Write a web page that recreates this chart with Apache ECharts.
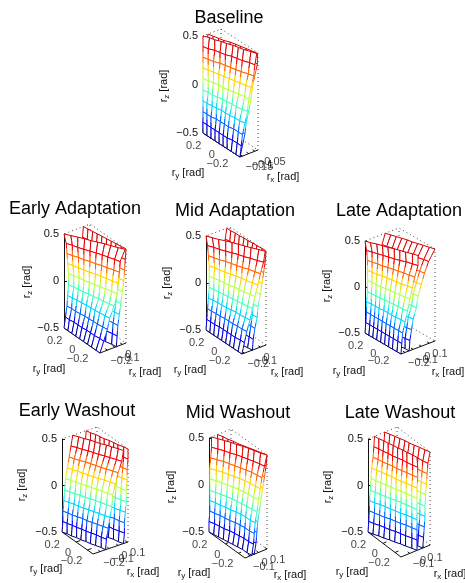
<!DOCTYPE html>
<html><head><meta charset="utf-8">
<style>html,body{margin:0;padding:0;background:#fff}#c{width:465px;height:583px}</style>
<script src="https://cdn.jsdelivr.net/npm/echarts@6/dist/echarts.min.js"></script>
</head><body><div id="c"></div>
<script>
// ---- values (radians) ----
const rzLevels = [0.5,0.39,0.28,0.17,0.06,-0.06,-0.17,-0.28,-0.39,-0.5];
const ryLevels = [0.25,0.19,0.13,0.07,0.01,-0.05,-0.11,-0.17,-0.24,-0.3];
const rzColors = ['#d00000','#f00000','#ff6300','#ffd400','#b8ff47','#47ffb8','#00d4ff','#0063ff','#0000f0','#000080'];
const ryRange = [0.25,-0.3];
const ryTicks = [0.2,0,-0.2];

const baselineFront = [
[-.17,-.15,-.14,-.12,-.11,-.09,-.08,-.07,-.05,-.035],
[-.17,-.16,-.14,-.13,-.12,-.10,-.09,-.08,-.06,-.05],
[-.17,-.16,-.15,-.13,-.12,-.11,-.10,-.09,-.07,-.06],
[-.17,-.16,-.15,-.14,-.13,-.12,-.11,-.10,-.09,-.08],
[-.17,-.16,-.15,-.14,-.14,-.13,-.12,-.11,-.10,-.10],
[-.17,-.16,-.16,-.15,-.14,-.14,-.13,-.13,-.12,-.11],
[-.17,-.17,-.16,-.16,-.15,-.15,-.15,-.14,-.14,-.13],
[-.17,-.17,-.17,-.16,-.16,-.16,-.16,-.15,-.15,-.15],
[-.17,-.17,-.17,-.17,-.17,-.17,-.17,-.16,-.16,-.16],
[-.17,-.17,-.17,-.17,-.17,-.17,-.17,-.17,-.17,-.17]];
const baselineBack = [
[-.13,-.12,-.11,-.10,-.08,-.07,-.06,-.05,-.04,-.03],
[-.14,-.13,-.11,-.10,-.09,-.08,-.07,-.05,-.04,-.03],
[-.14,-.13,-.12,-.11,-.10,-.09,-.08,-.07,-.06,-.05],
[-.14,-.13,-.13,-.12,-.11,-.10,-.09,-.08,-.07,-.07],
[-.15,-.14,-.13,-.13,-.12,-.11,-.11,-.10,-.09,-.08],
[-.15,-.15,-.14,-.14,-.13,-.13,-.12,-.11,-.11,-.10],
[-.16,-.15,-.15,-.14,-.14,-.14,-.13,-.13,-.12,-.12],
[-.16,-.16,-.16,-.15,-.15,-.15,-.14,-.14,-.14,-.13],
[-.17,-.16,-.16,-.16,-.16,-.16,-.16,-.15,-.15,-.15],
[-.17,-.17,-.17,-.17,-.17,-.17,-.17,-.17,-.17,-.17]];
const earlyAdaptFront = [
[-.30,-.26,-.22,-.18,-.15,-.11,-.07,-.04,.00,.04],
[-.27,-.24,-.22,-.19,-.16,-.13,-.10,-.08,-.05,-.03],
[-.26,-.24,-.21,-.19,-.16,-.14,-.11,-.09,-.06,-.04],
[-.25,-.23,-.21,-.19,-.17,-.14,-.12,-.10,-.08,-.06],
[-.24,-.22,-.20,-.19,-.17,-.15,-.13,-.11,-.09,-.07],
[-.24,-.22,-.21,-.20,-.18,-.17,-.15,-.14,-.12,-.11],
[-.25,-.24,-.23,-.22,-.21,-.20,-.20,-.19,-.18,-.17],
[-.26,-.25,-.25,-.24,-.23,-.23,-.22,-.22,-.21,-.20],
[-.28,-.28,-.27,-.27,-.27,-.26,-.26,-.26,-.25,-.25],
[-.30,-.30,-.30,-.30,-.30,-.30,-.30,-.30,-.30,-.30]];
const earlyAdaptBack = [
[-.04,-.03,-.02,-.01,0,.01,.02,.03,.04,.05],
[-.05,-.04,-.03,-.02,-.01,0,.01,.02,.03,.04],
[-.07,-.06,-.05,-.04,-.03,-.02,-.01,.01,.02,.03],
[-.09,-.08,-.07,-.05,-.04,-.03,-.02,-.01,.01,.02],
[-.11,-.10,-.08,-.07,-.06,-.05,-.04,-.02,-.01,.00],
[-.13,-.12,-.10,-.09,-.08,-.07,-.05,-.04,-.03,-.02],
[-.14,-.13,-.12,-.11,-.10,-.09,-.07,-.06,-.05,-.04],
[-.16,-.15,-.14,-.13,-.12,-.11,-.09,-.08,-.07,-.06],
[-.18,-.17,-.16,-.15,-.13,-.12,-.11,-.10,-.08,-.07],
[-.20,-.19,-.18,-.16,-.15,-.13,-.12,-.11,-.09,-.08]];
const midAdaptFront = [
[-.23,-.20,-.17,-.13,-.10,-.07,-.04,-.01,.03,.06],
[-.21,-.18,-.16,-.13,-.10,-.07,-.05,-.02,.01,.04],
[-.20,-.18,-.16,-.13,-.11,-.09,-.07,-.04,-.02,.00],
[-.19,-.17,-.16,-.14,-.12,-.10,-.08,-.07,-.05,-.03],
[-.19,-.18,-.16,-.15,-.14,-.12,-.11,-.10,-.08,-.07],
[-.19,-.18,-.17,-.16,-.15,-.14,-.13,-.12,-.11,-.10],
[-.20,-.19,-.18,-.18,-.17,-.16,-.15,-.15,-.14,-.13],
[-.21,-.21,-.20,-.20,-.19,-.19,-.19,-.18,-.18,-.17],
[-.22,-.22,-.22,-.21,-.21,-.21,-.21,-.21,-.20,-.20],
[-.23,-.23,-.23,-.23,-.23,-.23,-.23,-.23,-.23,-.23]];
const midAdaptBack = [
[.03,.03,.04,.04,.05,.05,.06,.06,.07,.07],
[.01,.02,.02,.03,.03,.04,.04,.05,.05,.06],
[-.02,-.01,-.01,0,.01,.01,.02,.03,.03,.04],
[-.05,-.04,-.03,-.03,-.02,-.01,-.01,0,.01,.02],
[-.08,-.07,-.06,-.05,-.04,-.04,-.03,-.02,-.01,0],
[-.10,-.09,-.08,-.08,-.07,-.06,-.05,-.05,-.04,-.03],
[-.11,-.10,-.10,-.09,-.08,-.08,-.07,-.06,-.05,-.04],
[-.13,-.12,-.11,-.11,-.10,-.09,-.09,-.08,-.07,-.07],
[-.14,-.13,-.13,-.12,-.12,-.11,-.11,-.10,-.09,-.09],
[-.16,-.15,-.15,-.14,-.14,-.13,-.12,-.12,-.11,-.10]];
const lateAdaptFront = [
[-.25,-.23,-.20,-.18,-.16,-.13,-.11,-.09,-.06,-.04],
[-.23,-.21,-.19,-.17,-.15,-.13,-.11,-.08,-.06,-.04],
[-.22,-.21,-.19,-.18,-.16,-.14,-.13,-.11,-.10,-.08],
[-.22,-.21,-.20,-.18,-.17,-.16,-.15,-.14,-.12,-.11],
[-.22,-.21,-.21,-.20,-.19,-.18,-.17,-.16,-.15,-.14],
[-.22,-.22,-.21,-.21,-.20,-.19,-.19,-.18,-.18,-.17],
[-.23,-.22,-.22,-.22,-.21,-.21,-.21,-.21,-.20,-.20],
[-.23,-.23,-.23,-.23,-.23,-.23,-.23,-.23,-.23,-.23],
[-.24,-.24,-.24,-.24,-.24,-.24,-.24,-.24,-.24,-.24],
[-.25,-.25,-.25,-.25,-.25,-.25,-.25,-.25,-.25,-.25]];
const lateAdaptBack = [
[0,.02,.04,.06,.08,.09,.11,.13,.15,.17],
[-.04,-.03,-.01,.00,.02,.03,.05,.06,.08,.09],
[-.08,-.07,-.05,-.04,-.03,-.01,.00,.01,.03,.04],
[-.10,-.09,-.08,-.07,-.06,-.04,-.03,-.02,-.01,0],
[-.12,-.11,-.10,-.09,-.08,-.08,-.07,-.06,-.05,-.04],
[-.14,-.13,-.12,-.11,-.10,-.10,-.09,-.08,-.07,-.06],
[-.16,-.15,-.15,-.14,-.13,-.13,-.12,-.12,-.11,-.10],
[-.17,-.17,-.16,-.16,-.15,-.15,-.14,-.14,-.13,-.12],
[-.20,-.19,-.19,-.18,-.18,-.17,-.16,-.16,-.15,-.14],
[-.21,-.20,-.20,-.19,-.18,-.18,-.17,-.16,-.15,-.15]];
const earlyWashFront = [
[-.16,-.13,-.11,-.08,-.06,-.04,-.01,.01,.04,.06],
[-.18,-.15,-.13,-.10,-.08,-.06,-.03,-.01,.02,.04],
[-.20,-.18,-.16,-.13,-.11,-.09,-.07,-.05,-.02,.00],
[-.22,-.20,-.18,-.16,-.14,-.12,-.10,-.07,-.05,-.03],
[-.24,-.22,-.20,-.18,-.16,-.14,-.12,-.10,-.08,-.06],
[-.25,-.23,-.21,-.19,-.17,-.15,-.13,-.11,-.09,-.07],
[-.26,-.24,-.22,-.21,-.19,-.17,-.15,-.13,-.11,-.09],
[-.27,-.25,-.24,-.22,-.20,-.19,-.17,-.15,-.13,-.11],
[-.27,-.26,-.24,-.23,-.21,-.20,-.18,-.16,-.15,-.13],
[-.28,-.26,-.25,-.23,-.22,-.20,-.19,-.17,-.15,-.14]];
const earlyWashBack = [
[-.01,.00,.02,.03,.04,.06,.07,.08,.10,.11],
[-.02,.00,.01,.03,.04,.05,.07,.08,.10,.11],
[-.03,-.01,.00,.02,.03,.04,.06,.07,.09,.10],
[-.04,-.02,-.01,.01,.02,.04,.05,.07,.08,.10],
[-.05,-.03,-.02,.00,.01,.03,.04,.06,.07,.09],
[-.05,-.04,-.02,-.01,.01,.02,.04,.05,.07,.09],
[-.06,-.05,-.03,-.02,.00,.01,.03,.04,.06,.08],
[-.07,-.05,-.04,-.02,-.01,.01,.02,.04,.05,.07],
[-.08,-.06,-.05,-.03,-.02,.00,.02,.03,.05,.07],
[-.08,-.07,-.05,-.04,-.02,-.01,.01,.03,.04,.06]];
const midWashFront = [
[-.13,-.10,-.07,-.04,-.02,.01,.03,.05,.07,.10],
[-.13,-.10,-.07,-.05,-.02,.00,.02,.04,.06,.07],
[-.14,-.11,-.08,-.06,-.04,-.02,.00,.02,.03,.04],
[-.15,-.12,-.09,-.07,-.05,-.03,-.01,.00,.01,.02],
[-.15,-.12,-.10,-.08,-.06,-.04,-.03,-.02,-.01,.00],
[-.15,-.13,-.11,-.09,-.07,-.06,-.05,-.04,-.03,-.02],
[-.15,-.13,-.12,-.10,-.09,-.07,-.06,-.05,-.05,-.04],
[-.15,-.14,-.12,-.11,-.10,-.08,-.07,-.06,-.06,-.05],
[-.16,-.14,-.13,-.12,-.10,-.09,-.08,-.07,-.07,-.06],
[-.16,-.15,-.14,-.13,-.12,-.11,-.10,-.09,-.09,-.08]];
const midWashBack = [
[-.06,-.04,-.03,-.01,.00,.02,.04,.06,.08,.10],
[-.06,-.05,-.03,-.02,.00,.02,.03,.05,.07,.09],
[-.07,-.05,-.04,-.03,-.01,.00,.02,.03,.05,.07],
[-.08,-.06,-.05,-.04,-.02,-.01,.01,.02,.04,.05],
[-.09,-.07,-.06,-.05,-.03,-.02,-.01,.00,.02,.03],
[-.09,-.08,-.07,-.06,-.04,-.03,-.02,-.01,.00,.01],
[-.10,-.09,-.08,-.07,-.06,-.05,-.04,-.03,-.02,-.01],
[-.10,-.09,-.08,-.07,-.07,-.06,-.05,-.04,-.03,-.02],
[-.11,-.10,-.09,-.08,-.07,-.07,-.06,-.05,-.04,-.03],
[-.11,-.10,-.10,-.09,-.08,-.08,-.07,-.06,-.06,-.05]];
const lateWashFront = [
[-.13,-.12,-.10,-.09,-.07,-.06,-.04,-.03,-.01,.00],
[-.14,-.12,-.11,-.09,-.08,-.06,-.04,-.03,-.01,.01],
[-.15,-.13,-.12,-.10,-.08,-.07,-.05,-.03,-.01,.01],
[-.17,-.15,-.13,-.11,-.09,-.08,-.06,-.04,-.02,.00],
[-.18,-.16,-.14,-.12,-.10,-.08,-.06,-.04,-.02,.00],
[-.19,-.17,-.15,-.13,-.11,-.08,-.06,-.04,-.02,.00],
[-.20,-.18,-.15,-.13,-.11,-.09,-.07,-.04,-.02,.00],
[-.20,-.18,-.16,-.14,-.11,-.09,-.07,-.04,-.02,.00],
[-.21,-.19,-.16,-.14,-.12,-.09,-.07,-.05,-.02,.00],
[-.22,-.20,-.17,-.15,-.12,-.10,-.07,-.05,-.02,.00]];
const lateWashBack = [
[.01,.03,.05,.07,.09,.10,.12,.14,.16,.18],
[.00,.02,.03,.05,.07,.08,.10,.12,.13,.15],
[-.01,.01,.03,.04,.06,.07,.09,.11,.12,.14],
[-.02,.00,.02,.03,.05,.06,.08,.10,.11,.13],
[-.03,-.01,.01,.02,.04,.05,.07,.09,.10,.12],
[-.04,-.02,.00,.01,.03,.04,.06,.07,.09,.11],
[-.05,-.03,-.01,.01,.02,.04,.06,.07,.09,.11],
[-.05,-.03,-.02,.00,.02,.03,.05,.06,.08,.10],
[-.06,-.04,-.03,-.01,.01,.02,.04,.05,.07,.09],
[-.07,-.05,-.04,-.02,.00,.01,.03,.05,.06,.08]];

// ---- per-panel axis limits and ticks ----
const panelTitles = ['Baseline','Early Adaptation','Mid Adaptation','Late Adaptation','Early Washout','Mid Washout','Late Washout'];
const frontSheets = [baselineFront,earlyAdaptFront,midAdaptFront,lateAdaptFront,earlyWashFront,midWashFront,lateWashFront];
const backSheets  = [baselineBack,earlyAdaptBack,midAdaptBack,lateAdaptBack,earlyWashBack,midWashBack,lateWashBack];
const rxRanges = [[-.17,-.025],[-.3,.05],[-.23,.07],[-.25,.17],[-.28,.11],[-.16,.10],[-.22,.18]];
const rxTicks = [[-.15,-.1,-.05],[-.2,-.1,0],[-.2,-.1,0],[-.2,-.1,0,.1],[-.2,-.1,0,.1],[-.1,0,.1],[-.1,0,.1]];

// ---- layout (page pixels): z-axis top, cube corners, titles, axis names ----
const zTop  = [[203,36],[64,234],[206,236],[365,241],[62,439],[209,438],[368,439]];
const zBot  = [[203,133],[64,328],[206,330],[365,333],[62,532],[209,532],[368,532]];
const cornerE = [[240,157],[100,353],[242,354],[401,354],[93,554],[245,558],[402,557]];
const cornerF = [[258,150],[126,343],[266,345],[435,341],[128,542],[267,549],[432,545]];
const titlePos = [[229,17],[75,208],[235,210],[399,210],[77,410],[238,412],[400,412]];
const rzNamePos = [[164,86],[27,282],[167,283],[327,286],[22,485],[171,487],[328,487]];
const ryNamePos = [[188,173],[49,369],[190,370],[349,371],[46,569],[194,573],[352,572]];
const rxNamePos = [[283,177],[145,372],[287,372],[448,372],[143,572],[290,575],[450,574]];

const FONT = '"Liberation Sans", Arial, sans-serif';
const fmt = v => String(v).replace('-', '\u2212');
const rich = {a:{fontSize:11,fontFamily:FONT,fill:'#111',color:'#111'},
              s:{fontSize:8,fontFamily:FONT,fill:'#111',color:'#111',padding:[5,0,0,0]}};

const grids=[],xAxes=[],yAxes=[],titles=[],series=[],graphics=[];

panelTitles.forEach((name,i)=>{
  const T=zTop[i],O=zBot[i],E=cornerE[i],F=cornerF[i],rxR=rxRanges[i];
  const H=O[1]-T[1];
  const proj=(rx,ry,rz)=>{
    const fy=(ry-ryRange[0])/(ryRange[1]-ryRange[0]);
    const fx=(rx-rxR[0])/(rxR[1]-rxR[0]);
    const dx=fy*(E[0]-O[0])+fx*(F[0]-E[0]);
    const dy=fy*(E[1]-O[1])+fx*(F[1]-E[1]);
    return [dx, rz-dy/H];
  };
  grids.push({left:T[0],top:T[1],width:100,height:H});
  xAxes.push({type:'value',gridIndex:i,min:0,max:100,show:false});
  yAxes.push({type:'value',gridIndex:i,min:-0.5,max:0.5,interval:0.5,
    axisLine:{show:true,lineStyle:{color:'#111',width:1}},
    axisTick:{show:true,inside:true,length:3,lineStyle:{color:'#111'}},
    splitLine:{show:false},
    axisLabel:{fontSize:11,fontFamily:FONT,color:'#111',margin:5,formatter:fmt}});
  titles.push({text:name,left:titlePos[i][0],top:titlePos[i][1]-8,textAlign:'center',padding:0,
    textStyle:{fontSize:18,fontWeight:'normal',fontFamily:FONT,color:'#000'}});

  const [a,b]=rxR,[p,q]=ryRange,gap=['-','-'];
  // dotted box edges
  const boxPts=[proj(a,p,-.5),proj(b,p,-.5),proj(b,q,-.5),gap,
    proj(b,p,-.5),proj(b,p,.5),gap,
    proj(b,q,-.5),proj(b,q,.5),proj(b,p,.5),proj(a,p,.5)];
  series.push({type:'line',z:1,xAxisIndex:i,yAxisIndex:i,data:boxPts,symbol:'none',clip:false,silent:true,animation:false,
    lineStyle:{color:'#444',width:1,type:[1,3]}});
  // floor axes + ticks
  const axisPts=[proj(a,p,-.5),proj(a,q,-.5),proj(b,q,-.5),gap];
  ryTicks.forEach(t=>{axisPts.push(proj(a,t,-.5),proj(a+(b-a)*.12,t,-.5),gap);});
  rxTicks[i].forEach(t=>{axisPts.push(proj(t,q,-.5),proj(t,q+(p-q)*.06,-.5),gap);});
  series.push({type:'line',z:1,xAxisIndex:i,yAxisIndex:i,data:axisPts,symbol:'none',clip:false,silent:true,animation:false,
    lineStyle:{color:'#111',width:1}});

  // mesh sheets: back first, then front (white cells hide what is behind)
  [backSheets[i],frontSheets[i]].forEach((sheet,sheetIndex)=>{
    const cells=[];
    for(let r=0;r<rzLevels.length-1;r++)for(let c=0;c<ryLevels.length-1;c++){
      const A=proj(sheet[r][c],ryLevels[c],rzLevels[r]),B=proj(sheet[r][c+1],ryLevels[c+1],rzLevels[r]),
            C=proj(sheet[r+1][c+1],ryLevels[c+1],rzLevels[r+1]),D=proj(sheet[r+1][c],ryLevels[c],rzLevels[r+1]);
      cells.push([A[0],A[1],B[0],B[1],C[0],C[1],D[0],D[1],r]);
    }
    series.push({type:'custom',z:3+sheetIndex,xAxisIndex:i,yAxisIndex:i,data:cells,silent:true,animation:false,clip:false,
      encode:{x:[0,2,4,6],y:[1,3,5,7]},
      renderItem:(params,api)=>{
        const P=[0,1,2,3].map(k=>api.coord([api.value(2*k),api.value(2*k+1)]));
        const r=api.value(8),up=rzColors[r],lo=rzColors[r+1];
        const mid=(m,n)=>[(m[0]+n[0])/2,(m[1]+n[1])/2];
        const ln=(pts,col)=>({type:'polyline',shape:{points:pts},style:{fill:'none',stroke:col,lineWidth:1}});
        return {type:'group',children:[
          {type:'polygon',shape:{points:P},style:{fill:'#fff',stroke:'none'}},
          ln([P[3],mid(P[3],P[0])],lo),ln([mid(P[3],P[0]),P[0]],up),
          ln([P[2],mid(P[2],P[1])],lo),ln([mid(P[2],P[1]),P[1]],up),
          ln([P[3],P[2]],lo),ln([P[0],P[1]],up)
        ]};
      }});
  });

  // floor tick labels
  const lab=(pts,lb)=>series.push({type:'scatter',z:6,xAxisIndex:i,yAxisIndex:i,data:pts,symbolSize:1,clip:false,silent:true,animation:false,
    itemStyle:{color:'rgba(0,0,0,0)'},label:Object.assign({show:true,fontSize:11,fontFamily:FONT,color:'#111',
      position:'inside',verticalAlign:'middle',formatter:o=>o.name},lb)});
  lab(ryTicks.map(t=>({name:fmt(t),value:proj(a,t,-.5)})),{align:'right',offset:[-5,11]});
  lab(rxTicks[i].map(t=>({name:fmt(t),value:proj(t,q,-.5)})),{align:'left',offset:[3,11]});

  // axis names
  const nm=(pos,sub,rot)=>graphics.push({type:'text',x:pos[0],y:pos[1],rotation:rot,silent:true,
    style:{text:`{a|r}{s|${sub}}{a| [rad]}`,rich,textAlign:'center',textVerticalAlign:'middle',fontFamily:FONT,fontSize:11,fill:'#111'}});
  nm(rzNamePos[i],'z',Math.PI/2); nm(ryNamePos[i],'y',0); nm(rxNamePos[i],'x',0);
});

const chart=echarts.init(document.getElementById('c'),null,{renderer:'canvas'});
chart.setOption({animation:false,backgroundColor:'#fff',title:titles,grid:grids,xAxis:xAxes,yAxis:yAxes,series,graphic:graphics});
</script></body></html>
